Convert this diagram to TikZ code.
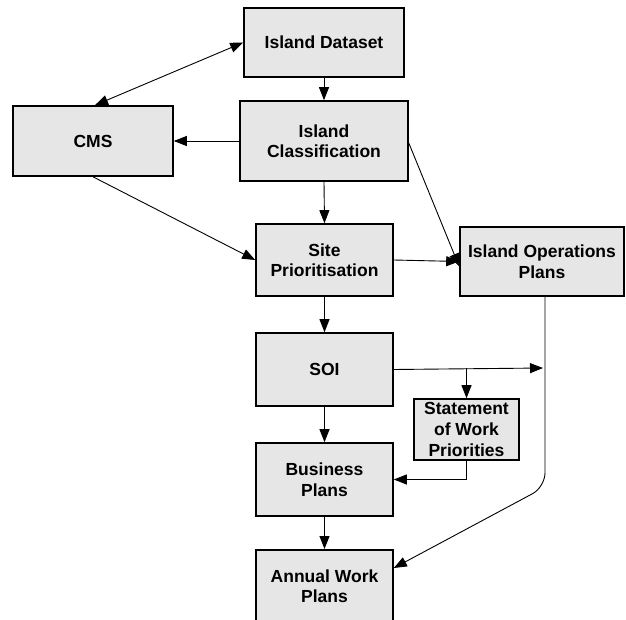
\documentclass[tikz,border=0pt]{standalone}
\usepackage{fontspec}
\setmainfont{Liberation Sans}
\usetikzlibrary{arrows.meta,calc}
\definecolor{boxfill}{HTML}{E6E6E6}
\tikzset{
  box/.style={draw=black, line width=1.6pt, fill=boxfill, align=center, inner sep=0pt,
    font=\fontsize{17.5}{20.5}\selectfont\bfseries, text=black},
  conn/.style={line width=0.9pt, -{Triangle[length=13pt,width=10pt]}},
  bconn/.style={line width=0.9pt, {Triangle[length=13pt,width=10pt]}-{Triangle[length=13pt,width=10pt]}},
  plain/.style={line width=0.9pt}
}
\begin{document}
\begin{tikzpicture}[x=1pt,y=-1pt]
\useasboundingbox (0,0) rectangle (626,620);
\begin{scope}
\clip (0,0) rectangle (626,620);
\node[box, minimum width=160pt, minimum height=69pt] (ds) at (324,42.5) {Island Dataset};
\node[box, minimum width=168pt, minimum height=80pt] (ic) at (324,141) {Island\\Classification};
\node[box, minimum width=160pt, minimum height=70pt] (cms) at (93,141) {CMS};
\node[box, minimum width=137pt, minimum height=72pt] (sp) at (324.5,260) {Site\\Prioritisation};
\node[box, minimum width=164pt, minimum height=69pt] (iop) at (542,261.5) {Island Operations\\Plans};
\node[box, minimum width=137pt, minimum height=73pt] (soi) at (324.5,369.5) {SOI};
\node[box, minimum width=105pt, minimum height=61pt, font=\fontsize{17.5}{21}\selectfont\bfseries] (sow) at (466.5,429.5) {Statement\\of Work\\Priorities};
\node[box, minimum width=137pt, minimum height=73pt] (bp) at (324.5,479.5) {Business\\Plans};
\node[box, minimum width=137pt, minimum height=73pt, anchor=north] (awp) at (324.5,549) {Annual Work\\Plans};

\draw[bconn] ([xshift=2pt]cms.north) -- (ds.west);
\draw[conn] (ds.south) -- (ic.north);
\draw[conn] (ic.west) -- (cms.east);
\draw[conn] (cms.south) -- (sp.west);
\draw[conn] (ic.south) -- (sp.north);
\draw[conn] ([yshift=-2pt]ic.east) -- ([yshift=-5pt]iop.west);
\draw[conn] (sp.east) -- (iop.west);
\draw[conn] (sp.south) -- (soi.north);
\coordinate (soiend) at (543,368);
\draw[conn] (soi.east) -- (soiend);
\coordinate (jn) at (sow.north |- soiend);
\draw[conn] (jn) -- (sow.north);
\draw[conn] (sow.south) |- (bp.east);
\draw[conn] (soi.south) -- (bp.north);
\draw[conn] (bp.south) -- (awp.north);
\coordinate (bend) at (545,487);
\draw[conn, rounded corners=14pt] ([xshift=3pt]iop.south) -- (bend) -- ([yshift=-19pt]awp.north east);
\end{scope}
\end{tikzpicture}
\end{document}
